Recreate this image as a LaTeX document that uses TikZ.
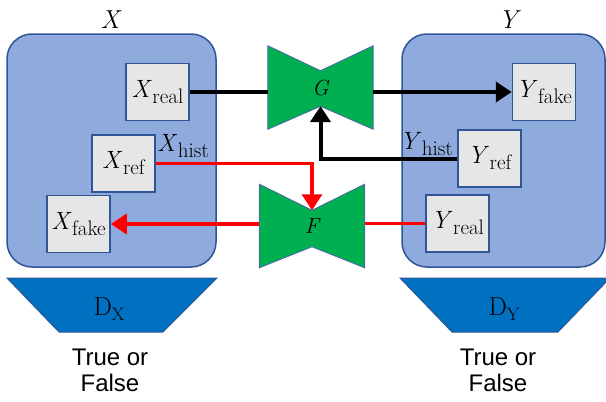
\documentclass[tikz,border=0pt]{standalone}
\usepackage{fontspec}
\newfontfamily\labelsans{Liberation Sans}
\usetikzlibrary{arrows.meta,backgrounds}

% italic variable with a lowered upright index, e.g. X with "real"
\newcommand{\setvar}[2]{\textit{#1}\kern0.5pt\lower6pt\hbox{\fontsize{21}{21}\selectfont #2}}
% upright discriminator name with a lowered index
\newcommand{\discname}[2]{#1\lower5pt\hbox{\fontsize{18}{18}\selectfont #2}}

\definecolor{setfill}{HTML}{8FAADC}
\definecolor{setdraw}{HTML}{2F5597}
\definecolor{itemfill}{HTML}{E7E6E6}
\definecolor{itemdraw}{HTML}{2F5597}
\definecolor{genfill}{HTML}{00B050}
\definecolor{gendraw}{HTML}{41719C}
\definecolor{discfill}{HTML}{0070C0}
\definecolor{discdraw}{HTML}{2F5597}
\definecolor{redline}{HTML}{FF0000}

\begin{document}
\begin{tikzpicture}[x=1pt,y=-1pt,
  setbox/.style={draw=setdraw, fill=setfill, line width=1.5pt,
    rounded corners=25pt, inner sep=0pt, minimum height=233pt},
  itembox/.style={draw=itemdraw, fill=itemfill, line width=1.5pt,
    minimum width=63pt, minimum height=57pt, inner sep=0pt,
    font=\fontsize{25}{30}\selectfont},
  settitle/.style={anchor=base, inner sep=0pt, font=\fontsize{26}{30}\selectfont\itshape},
  histlabel/.style={inner sep=0pt, font=\fontsize{25}{30}\selectfont},
  genbox/.style={minimum width=105pt, minimum height=83pt, inner sep=0pt,
    font=\fontsize{22}{26}\selectfont\itshape},
  genshape/.style={draw=gendraw, fill=genfill, line width=1pt, line join=miter},
  discshape/.style={draw=discdraw, fill=discfill, line width=1pt},
  disclabel/.style={anchor=base, inner sep=0pt, font=\fontsize{26}{30}\selectfont},
  verdict/.style={align=center, inner sep=0pt,
    font=\labelsans\fontsize{24}{26}\selectfont},
  blkconn/.style={draw=black, line width=4pt},
  redconn/.style={draw=redline, line width=3.5pt},
  tip/.style={-{Triangle[length=16pt,width=20pt]}}
]
\useasboundingbox (0,0) rectangle (606,402);

% domain sets
\node[setbox, minimum width=209pt] (Xset) at (111.5,150.5) {};
\node[setbox, minimum width=203pt] (Yset) at (503.5,150.5) {};
\node[settitle] (Xtitle) at (110,28) {X};
\node[settitle] (Ytitle) at (508,28) {Y};

% samples inside the sets
\node[itembox] (Xreal) at (157.5,92) {\setvar{X}{real}};
\node[itembox] (Xref)  at (123.5,163.5) {\setvar{X}{ref}};
\node[itembox] (Xfake) at (78.5,224) {\setvar{X}{fake}};
\node[itembox] (Yfake) at (544,92) {\setvar{Y}{fake}};
\node[itembox] (Yref)  at (489.5,158.5) {\setvar{Y}{ref}};
\node[itembox] (Yreal) at (457.5,223.5) {\setvar{Y}{real}};

% generators
\node[genbox] (G) at (320.5,87.5) {G};
\node[genbox] (F) at (312,226) {F};
\coordinate (Gtop) at ([yshift=-25pt]G.north);
\coordinate (Gbot) at ([yshift=23pt]G.south);
\coordinate (Ftop) at ([yshift=-26pt]F.north);
\coordinate (Fbot) at ([yshift=21pt]F.south);
\begin{scope}[on background layer]
  \path[genshape] (G.north west) -- (Gtop) -- (G.north east)
    -- (G.south east) -- (Gbot) -- (G.south west) -- cycle;
  \path[genshape] (F.north west) -- (Ftop) -- (F.north east)
    -- (F.south east) -- (Fbot) -- (F.south west) -- cycle;
\end{scope}

% histogram labels
\node[histlabel, anchor=base west] (Xhist) at (157,151) {\setvar{X}{hist}};
\node[histlabel, anchor=base east] (Yhist) at (453,149) {\setvar{Y}{hist}};

% G: X -> Y, guided by the Y reference
\draw[blkconn] (Xreal.east) -- (Xreal.east -| G.west);
\draw[blkconn, tip] (Yfake.west -| G.east) -- (Yfake.west);
\draw[blkconn, tip] (Yref.west) -| (Gbot);

% F: Y -> X, guided by the X reference
\draw[redconn] (Yreal.west) -- (Yreal.west -| F.east);
\draw[redconn, tip] (Xfake.east -| F.west) -- (Xfake.east);
\draw[redconn, tip] (Xref.east) -| (Ftop);

% discriminators
\path[discshape] (7,278) -- (217,278) -- (163,332) -- (59,332) -- cycle;
\path[discshape] (400,278) -- (610,278) -- (558,332) -- (452,332) -- cycle;
\node[disclabel] (DX) at (109,315) {\discname{D}{X}};
\node[disclabel] (DY) at (504,315) {\discname{D}{Y}};
\node[verdict] (OutX) at (110,370) {True or\\False};
\node[verdict] (OutY) at (498,370) {True or\\False};
\end{tikzpicture}
\end{document}
